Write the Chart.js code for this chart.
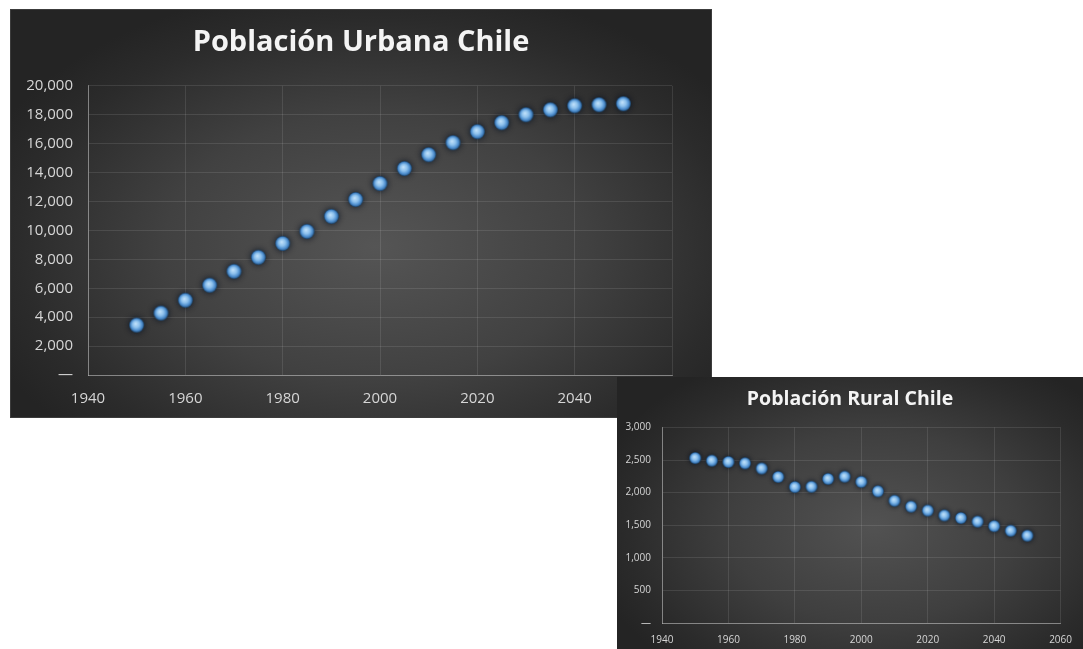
<!DOCTYPE html>
<html lang="es">
<head>
<meta charset="utf-8">
<title>Población Urbana y Rural de Chile</title>
<script src="https://cdn.jsdelivr.net/npm/chart.js@4.4.1/dist/chart.umd.min.js"></script>
<style>
  html, body { margin: 0; padding: 0; background: #ffffff; }
  body { width: 1083px; height: 649px; position: relative; overflow: hidden; }
  canvas { position: absolute; display: block; }
  #urbana {
    left: 10px; top: 9px;
    background: radial-gradient(ellipse 60% 65% at 52% 58%, #555555 0%, #414141 50%, #2b2b2b 85%, #242424 100%);
    box-shadow: inset 0 0 0 1px #3c3c3c;
    z-index: 1;
  }
  #rural {
    left: 617px; top: 377px;
    background: radial-gradient(ellipse 62% 70% at 55% 55%, #525252 0%, #3f3f3f 50%, #2b2b2b 85%, #242424 100%);
    z-index: 2;
  }
</style>
</head>
<body>
<canvas id="urbana" width="702" height="409"></canvas>
<canvas id="rural" width="466" height="272"></canvas>
<script>
// Años de las proyecciones (cada 5 años)
const years = [1950, 1955, 1960, 1965, 1970, 1975, 1980, 1985, 1990, 1995, 2000,
               2005, 2010, 2015, 2020, 2025, 2030, 2035, 2040, 2045, 2050];

// Población urbana (miles de habitantes)
const urbana = [3450, 4280, 5170, 6210, 7170, 8140, 9100, 9930, 10970, 12140, 13240,
                14280, 15240, 16070, 16830, 17450, 18000, 18340, 18620, 18690, 18760];

// Población rural (miles de habitantes)
const rural = [2530, 2490, 2470, 2450, 2370, 2240, 2085, 2090, 2210, 2245, 2165,
               2020, 1875, 1785, 1725, 1650, 1610, 1555, 1485, 1415, 1340];

// Títulos y rangos de los ejes
const tituloUrbana = 'Población Urbana Chile';
const tituloRural = 'Población Rural Chile';
const xMin = 1940, xMax = 2060, xStep = 20;
const urbanaMax = 20000, urbanaStep = 2000;
const ruralMax = 3000, ruralStep = 500;

// Marcador circular con brillo azul y halo oscuro
function makeMarker(r) {
  const pad = Math.ceil(r * 0.7) + 2;
  const size = (r + pad) * 2;
  const c = document.createElement('canvas');
  c.width = size; c.height = size;
  const g = c.getContext('2d');
  const cx = size / 2, cy = size / 2;
  g.save();
  g.shadowColor = 'rgba(5, 15, 30, 0.85)';
  g.shadowBlur = r * 0.8;
  g.beginPath();
  g.arc(cx, cy, r, 0, Math.PI * 2);
  g.fillStyle = '#1f4a75';
  g.fill();
  g.restore();
  const grad = g.createRadialGradient(cx - r * 0.15, cy - r * 0.2, 0, cx, cy, r);
  grad.addColorStop(0, '#c4e3fb');
  grad.addColorStop(0.45, '#8cc0ec');
  grad.addColorStop(0.75, '#4f8fcf');
  grad.addColorStop(1, '#24527f');
  g.beginPath();
  g.arc(cx, cy, r - 0.5, 0, Math.PI * 2);
  g.fillStyle = grad;
  g.fill();
  return c;
}

function toPoints(xs, ys) {
  return xs.map((x, i) => ({ x: x, y: ys[i] }));
}

function fmt(v) {
  return v === 0 ? '—' : v.toLocaleString('en-US');
}

function buildChart(id, cfg) {
  const tickColor = '#d6d6d6';
  const gridColor = 'rgba(255,255,255,0.10)';
  const axisColor = 'rgba(215,215,215,0.45)';
  return new Chart(document.getElementById(id), {
    type: 'scatter',
    data: {
      datasets: [{
        data: toPoints(years, cfg.values),
        pointStyle: makeMarker(cfg.markerR),
        pointRadius: cfg.markerR,
        pointHoverRadius: cfg.markerR,
        showLine: false
      }]
    },
    options: {
      responsive: false,
      animation: false,
      devicePixelRatio: 1,
      layout: { padding: 0 },
      plugins: {
        legend: { display: false },
        tooltip: { enabled: false },
        title: {
          display: true,
          text: cfg.title,
          color: '#f4f4f4',
          font: { family: '"Open Sans", sans-serif', size: cfg.titleSize, weight: 'bold' },
          padding: { top: cfg.titleTop, bottom: cfg.titleBottom }
        }
      },
      scales: {
        x: {
          type: 'linear',
          min: xMin, max: xMax,
          afterFit: s => { s.height = cfg.xHeight; },
          grid: { color: gridColor, drawTicks: false },
          border: { color: axisColor, width: 1 },
          ticks: {
            stepSize: xStep,
            padding: cfg.xPad,
            color: tickColor,
            font: { family: '"Open Sans", sans-serif', size: cfg.tickSize },
            callback: v => String(v)
          }
        },
        y: {
          min: 0, max: cfg.yMax,
          afterFit: s => { s.width = cfg.yWidth; },
          grid: { color: gridColor, drawTicks: false },
          border: { color: axisColor, width: 1 },
          ticks: {
            stepSize: cfg.yStep,
            padding: cfg.yPad,
            color: tickColor,
            font: { family: '"Open Sans", sans-serif', size: cfg.tickSize },
            callback: v => fmt(v)
          }
        },
        // Margen derecho vacío: el título queda centrado en todo el panel
        margen: {
          type: 'linear',
          position: 'right',
          display: true,
          afterFit: s => { s.width = cfg.padRight; },
          grid: { display: false, drawTicks: false },
          border: { display: false },
          ticks: { display: false }
        }
      }
    }
  });
}

buildChart('urbana', {
  values: urbana, title: tituloUrbana,
  yMax: urbanaMax, yStep: urbanaStep,
  titleSize: 29, titleTop: 16, titleBottom: 26,
  tickSize: 15, xPad: 15, yPad: 15,
  xHeight: 43, yWidth: 78, padRight: 40,
  markerR: 7.5
});

buildChart('rural', {
  values: rural, title: tituloRural,
  yMax: ruralMax, yStep: ruralStep,
  titleSize: 19.5, titleTop: 11, titleBottom: 16,
  tickSize: 10, xPad: 11, yPad: 11,
  xHeight: 26, yWidth: 45, padRight: 21,
  markerR: 6
});
</script>
</body>
</html>
